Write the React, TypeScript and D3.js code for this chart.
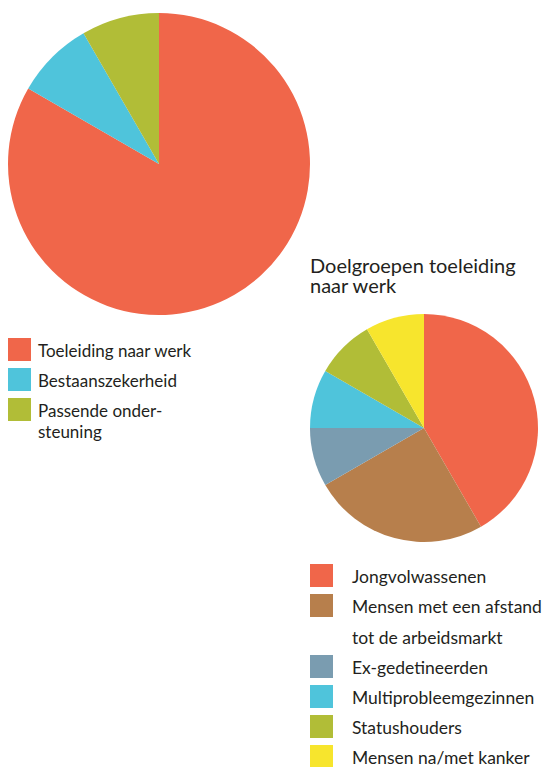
import React, { useEffect, useRef } from 'react';
import * as d3 from 'd3';

// Verdeling over de drie sporen
const mainLabels = ['Toeleiding naar werk', 'Bestaanszekerheid', 'Passende onder-|steuning'];
const mainValues = [10, 1, 1];
const mainColors = ['#f0664a', '#4fc4db', '#b1bd37'];

// Doelgroepen toeleiding naar werk
const groupLabels = [
  'Jongvolwassenen',
  'Mensen met een afstand|tot de arbeidsmarkt',
  'Ex-gedetineerden',
  'Multiprobleemgezinnen',
  'Statushouders',
  'Mensen na/met kanker',
];
const groupValues = [5, 3, 1, 1, 1, 1];
const groupColors = ['#f0664a', '#b77f4c', '#7a9cb0', '#4fc4db', '#b1bd37', '#f7e52d'];

const W = 544;
const H = 767;
const FONT = 'Lato, "Open Sans", sans-serif';

export default function App() {
  const svgRef = useRef<SVGSVGElement>(null);

  useEffect(() => {
    if (!svgRef.current) return;
    const svg = d3.select(svgRef.current);
    svg.selectAll('*').remove();

    const pie = d3.pie<number>().sort(null).value(d => d);

    const drawPie = (values: number[], colors: string[], cx: number, cy: number, r: number) => {
      const arc = d3.arc<d3.PieArcDatum<number>>().innerRadius(0).outerRadius(r);
      const g = svg.append('g').attr('transform', `translate(${cx},${cy})`);
      g.selectAll('path')
        .data(pie(values))
        .enter()
        .append('path')
        .attr('d', arc)
        .attr('fill', (_, i) => colors[i]);
    };

    drawPie(mainValues, mainColors, 159, 164, 151);
    drawPie(groupValues, groupColors, 424, 428, 114);

    // Legenda 1
    const leg1 = svg.append('g').attr('transform', 'translate(8,338)');
    mainLabels.forEach((lab, i) => {
      const row = leg1.append('g').attr('transform', `translate(0,${i * 30})`);
      row.append('rect').attr('width', 23).attr('height', 23).attr('fill', mainColors[i]);
      lab.split('|').forEach((line, j) => {
        row.append('text')
          .attr('x', 30)
          .attr('y', 19 + j * 21)
          .attr('font-family', FONT)
          .attr('font-size', 17)
          .attr('fill', '#231f20')
          .text(line);
      });
    });

    // Titel
    const title = svg.append('text')
      .attr('x', 310)
      .attr('font-family', FONT)
      .attr('font-size', 20)
      .attr('fill', '#231f20');
    ['Doelgroepen toeleiding', 'naar werk'].forEach((t, i) => {
      title.append('tspan').attr('x', 310).attr('y', 273 + i * 20).text(t);
    });

    // Legenda 2
    const leg2 = svg.append('g').attr('transform', 'translate(310,564)');
    let offset = 0;
    groupLabels.forEach((lab, i) => {
      const lines = lab.split('|');
      const row = leg2.append('g').attr('transform', `translate(0,${offset})`);
      row.append('rect').attr('width', 23).attr('height', 23).attr('fill', groupColors[i]);
      lines.forEach((line, j) => {
        row.append('text')
          .attr('x', 42)
          .attr('y', 19 + j * 31)
          .attr('font-family', FONT)
          .attr('font-size', 17.5)
          .attr('fill', '#231f20')
          .text(line);
      });
      offset += lines.length > 1 ? 61 : 30;
    });
  }, []);

  return (
    <svg
      ref={svgRef}
      width={W}
      height={H}
      style={{ position: 'absolute', left: 0, top: 0, background: '#fff' }}
    />
  );
}
